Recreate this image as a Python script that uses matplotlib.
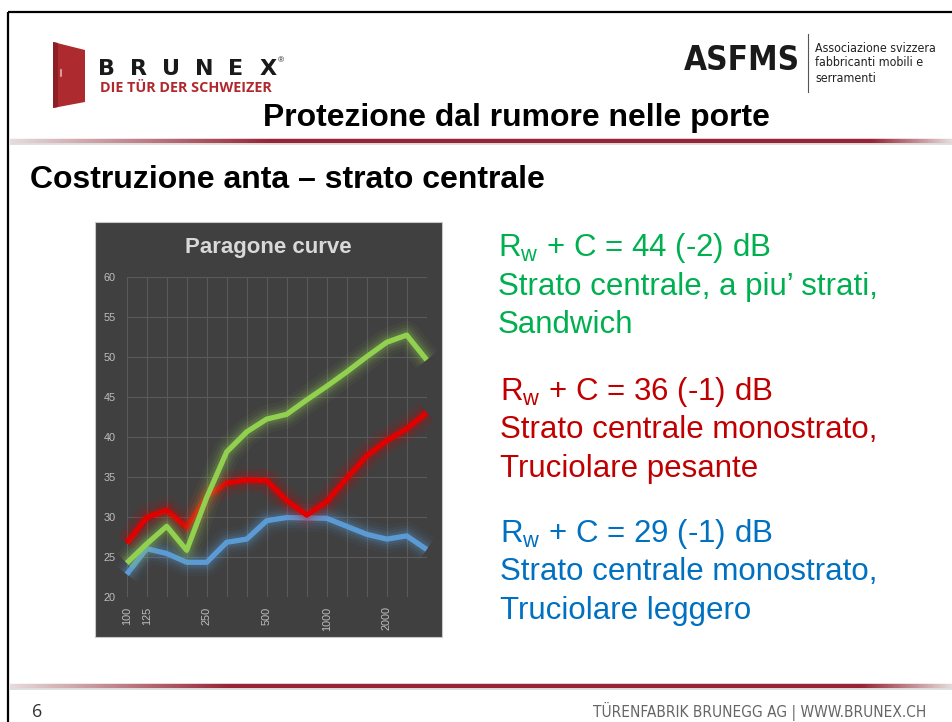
import numpy as np
import matplotlib
matplotlib.use("Agg")
import matplotlib.pyplot as plt
import matplotlib.font_manager as fm
from matplotlib.collections import LineCollection
from matplotlib.patches import Rectangle, Polygon
from matplotlib.colors import to_rgb

# ---------------- data ----------------
freqs = ["100", "125", "160", "200", "250", "315", "400", "500", "630", "800",
         "1000", "1250", "1600", "2000", "2500", "3150"]
shown_labels = ["100", "125", "250", "500", "1000", "2000"]
green_vals = [24.2, 26.6, 28.8, 25.8, 32.4, 38.1, 40.6, 42.2, 42.8, 44.6, 46.3, 48.1, 50.0, 51.8, 52.7, 49.6]
red_vals = [26.7, 29.9, 30.8, 28.7, 32.5, 34.2, 34.6, 34.5, 32.0, 30.2, 31.9, 34.8, 37.6, 39.5, 41.0, 43.0]
blue_vals = [22.8, 26.0, 25.4, 24.3, 24.3, 26.8, 27.2, 29.5, 29.9, 29.85, 29.8, 28.8, 27.8, 27.2, 27.6, 25.9]
y_ticks = [20, 25, 30, 35, 40, 45, 50, 55, 60]

chart_title = "Paragone curve"
slide_title = "Protezione dal rumore nelle porte"
section_title = "Costruzione anta \u2013 strato centrale"
notes = [
    ("R$_{\\mathrm{w}}$ + C = 44 (-2) dB", "Strato centrale, a piu\u2019 strati,", "Sandwich"),
    ("R$_{\\mathrm{w}}$ + C = 36 (-1) dB", "Strato centrale monostrato,", "Truciolare pesante"),
    ("R$_{\\mathrm{w}}$ + C = 29 (-1) dB", "Strato centrale monostrato,", "Truciolare leggero"),
]
note_colors = ["#00b050", "#c00000", "#0070c0"]
footer_text = "T\u00dcRENFABRIK BRUNEGG AG | WWW.BRUNEX.CH"
page_number = "6"

# ---------------- fonts ----------------
plt.rcParams["font.family"] = ["Liberation Sans", "DejaVu Sans"]
plt.rcParams["mathtext.fontset"] = "custom"
plt.rcParams["mathtext.rm"] = "Liberation Sans"
plt.rcParams["mathtext.it"] = "Liberation Sans:italic"
plt.rcParams["mathtext.bf"] = "Liberation Sans:bold"


def wnum(w):
    if isinstance(w, (int, float)):
        return w
    return {"light": 300, "normal": 400, "regular": 400, "medium": 500,
            "semibold": 600, "bold": 700}.get(str(w).lower(), 400)


conds = []
for f in fm.fontManager.ttflist:
    nm = f.name.lower()
    if ("condensed" in nm or "narrow" in nm or "cond" in f.fname.lower()
            or f.stretch in ("condensed", "semi-condensed", "extra-condensed")) \
            and "mono" not in nm and "serif" not in nm and f.style == "normal":
        conds.append(f)
light_c = sorted([f for f in conds if wnum(f.weight) < 600], key=lambda f: abs(wnum(f.weight) - 400))
bold_c = [f for f in conds if wnum(f.weight) >= 600]
small_fp = fm.FontProperties(fname=light_c[0].fname) if light_c else \
    (fm.FontProperties(fname=bold_c[0].fname) if bold_c else fm.FontProperties(family=["Open Sans", "DejaVu Sans"]))
logo_fp = fm.FontProperties(fname=bold_c[0].fname) if bold_c else small_fp

W, H = 952, 722
fig = plt.figure(figsize=(W / 100, H / 100), dpi=100)
fig.patch.set_facecolor("white")

bg = fig.add_axes([0, 0, 1, 1])
bg.set_xlim(0, W)
bg.set_ylim(H, 0)
bg.axis("off")

renderer = fig.canvas.get_renderer()


def fit(t, target_w):
    w = t.get_window_extent(renderer=renderer).width
    if w > 0:
        t.set_fontsize(t.get_fontsize() * target_w / w)


# slide border (top and left)
bg.plot([8, W], [12, 12], color="black", lw=1.6, solid_capstyle="butt")
bg.plot([8, 8], [12, H], color="black", lw=1.6, solid_capstyle="butt")


def grad_line(y, x0, x1, fade_l, fade_r, lw):
    xs = np.linspace(x0, x1, 400)
    segs = [[(xs[i], y), (xs[i + 1], y)] for i in range(len(xs) - 1)]
    dark = np.array(to_rgb("#962434"))
    light = np.array(to_rgb("#e6dcdc"))
    cols = []
    for xm in (xs[:-1] + xs[1:]) / 2:
        a = min(1.0, (xm - x0) / fade_l, (x1 - xm) / fade_r)
        a = max(0.0, a)
        cols.append(tuple(light + (dark - light) * a))
    lc = LineCollection(segs, colors=cols, linewidths=lw, capstyle="butt")
    bg.add_collection(lc)
    shadow = LineCollection([[(x0, y + 3), (x1, y + 3)]], colors=[(0.85, 0.85, 0.85)], linewidths=1.2)
    bg.add_collection(shadow)


grad_line(141, 10, W, 260, 80, 3.2)
grad_line(686, 10, W, 220, 90, 3.2)

# BRUNEX logo
door = Polygon([(53, 42), (85, 50), (85, 102), (53, 108)], closed=True,
               facecolor="#ad2a2f", edgecolor="none")
bg.add_patch(door)
bg.add_patch(Polygon([(53, 42), (58, 43), (58, 107), (53, 108)], closed=True,
                     facecolor="#8e1f24", edgecolor="none"))
bg.plot([61, 61], [70, 76], color="#e8b0b0", lw=1.2)
for ch, cx in zip("BRUNEX", [107, 139, 171, 204, 236, 268]):
    bg.text(cx, 69, ch, fontsize=16, fontweight="bold", color="#1a1a1a",
            ha="center", va="center", family=["DejaVu Sans"])
bg.text(281, 61, "\u00ae", fontsize=6, color="#1a1a1a", ha="center", va="center")
t = bg.text(100, 88, "DIE T\u00dcR DER SCHWEIZER", fontsize=8.5, fontweight="bold",
            color="#b0282e", ha="left", va="center", family=["Open Sans", "DejaVu Sans"])
fit(t, 170)

# ASFMS logo
t = bg.text(800, 61, "ASFMS", fontsize=30, color="#1a1a1a", ha="right", va="center",
            fontproperties=logo_fp)
fit(t, 116)
bg.plot([808, 808], [34, 92], color="#555555", lw=0.8)
for i, line in enumerate(["Associazione svizzera", "fabbricanti mobili e", "serramenti"]):
    tt = bg.text(815, 48 + i * 15, line, fontsize=9.5, color="#222222", ha="left", va="center",
                 fontproperties=small_fp)
    if i == 0:
        fit(tt, 122)
        base_fs = tt.get_fontsize()
    else:
        tt.set_fontsize(base_fs)

# titles
t = bg.text(516, 118, slide_title, fontsize=23, fontweight="bold", color="black",
            ha="center", va="center")
fit(t, 508)
t = bg.text(30, 180, section_title, fontsize=23, fontweight="bold", color="black",
            ha="left", va="center")
fit(t, 515)

# notes on the right
note_x = [498, 500, 500]
note_y = [248, 392, 534]
for (l1, l2, l3), col, x0, y0 in zip(notes, note_colors, note_x, note_y):
    for j, line in enumerate((l1, l2, l3)):
        bg.text(x0, y0 + j * 38.5, line, fontsize=22.5, color=col, ha="left", va="center")

# footer
bg.text(37, 712, page_number, fontsize=13, color="#333333", ha="center", va="center",
        family=["Open Sans", "DejaVu Sans"])
t = bg.text(926, 711, footer_text, fontsize=11, color="#666666", ha="right", va="center",
            fontproperties=small_fp)
fit(t, 333)

# chart panel
bg.add_patch(Rectangle((95, 222), 347, 415, facecolor="#404040", edgecolor="#c8c8c8", lw=0.8))
bg.text(268, 247, chart_title, fontsize=16, fontweight="bold", color="#d9d9d9",
        ha="center", va="center")

# ---------------- chart axes ----------------
ax = fig.add_axes([126.7 / W, 1 - 596.7 / H, 300 / W, 320 / H])
ax.set_facecolor("none")
x = np.arange(len(freqs))
ax.set_xlim(0, len(freqs) - 1)
ax.set_ylim(20, 60)
ax.set_yticks(y_ticks)
ax.set_xticks(x)
ax.set_xticklabels([f if f in shown_labels else "" for f in freqs], rotation=90)
ax.tick_params(axis="both", length=0, colors="#bfbfbf", labelsize=7.8)
ax.tick_params(axis="y", pad=8)
ax.tick_params(axis="x", pad=7)
for s in ax.spines.values():
    s.set_visible(False)
ax.grid(True, color="#5a5a5a", lw=0.8)
ax.set_axisbelow(True)

series = [(blue_vals, "#5b9bd5", 3), (red_vals, "#e00000", 4), (green_vals, "#92d050", 5)]
for vals, col, z in series:
    for lw, a in [(20, 0.05), (15, 0.07), (11, 0.1), (7.5, 0.15)]:
        ax.plot(x, vals, color=col, lw=lw, alpha=a, solid_joinstyle="round",
                solid_capstyle="butt", zorder=z, clip_on=False)
    ax.plot(x, vals, color=col, lw=3.8, solid_joinstyle="round",
            solid_capstyle="butt", zorder=z + 0.5, clip_on=False)

fig.savefig("out.png", dpi=100, facecolor="white")
